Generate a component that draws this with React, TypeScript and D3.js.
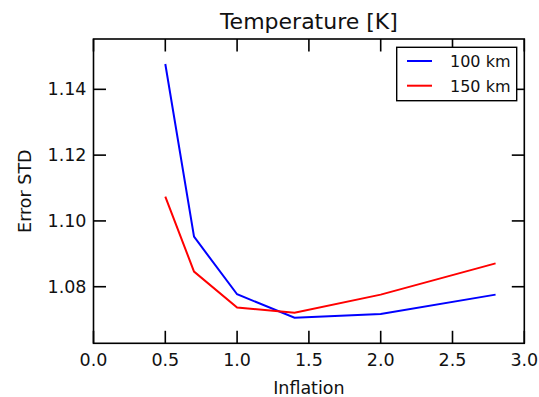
import React from "react";
import * as d3 from "d3";

const inflation = [0.5, 0.7, 1.0, 1.4, 2.0, 2.8];
const err100 = [1.1477, 1.0952, 1.0777, 1.0706, 1.0717, 1.0776];
const err150 = [1.1074, 1.0846, 1.0737, 1.0721, 1.0776, 1.0871];
const seriesNames = ["100 km", "150 km"];
const seriesColors = ["#0000ff", "#ff0000"];
const xTicks = [0, 0.5, 1.0, 1.5, 2.0, 2.5, 3.0];
const yTicks = [1.08, 1.1, 1.12, 1.14];

const W = 539;
const H = 397;
const L = 93.5, R = 524.3, T = 39, B = 343.3;
const FONT = "DejaVu Sans, sans-serif";

export default function App() {
  const x = d3.scaleLinear().domain([0, 3]).range([L, R]);
  const y = d3.scaleLinear().domain([1.0628, 1.1553]).range([B, T]);
  const line = d3
    .line<number>()
    .x((_, i) => x(inflation[i]))
    .y((d) => y(d));
  const series = [err100, err150];
  const tickLen = 12.5;

  return (
    <svg
      width={W}
      height={H}
      style={{ position: "absolute", left: 0, top: 0, background: "#fff" }}
      fontFamily={FONT}
    >
      <rect x={0} y={0} width={W} height={H} fill="#fff" />
      {series.map((s, k) => (
        <path
          key={k}
          d={line(s) || ""}
          fill="none"
          stroke={seriesColors[k]}
          strokeWidth={2}
          strokeLinejoin="miter"
        />
      ))}
      <rect x={L} y={T} width={R - L} height={B - T} fill="none" stroke="#000" strokeWidth={1.6} />
      {xTicks.map((t) => (
        <g key={"x" + t}>
          <line x1={x(t)} x2={x(t)} y1={B} y2={B - tickLen} stroke="#000" strokeWidth={1.6} />
          <line x1={x(t)} x2={x(t)} y1={T} y2={T + tickLen} stroke="#000" strokeWidth={1.6} />
          <text x={x(t)} y={366} textAnchor="middle" fontSize={17.5} fill="#111">
            {t.toFixed(1)}
          </text>
        </g>
      ))}
      {yTicks.map((t) => (
        <g key={"y" + t}>
          <line x1={L} x2={L + tickLen} y1={y(t)} y2={y(t)} stroke="#000" strokeWidth={1.6} />
          <line x1={R} x2={R - tickLen} y1={y(t)} y2={y(t)} stroke="#000" strokeWidth={1.6} />
          <text x={86.5} y={y(t) + 6} textAnchor="end" fontSize={17.5} fill="#111">
            {t.toFixed(2)}
          </text>
        </g>
      ))}
      <text x={(L + R) / 2} y={393.5} textAnchor="middle" fontSize={17.5} fill="#111">
        Inflation
      </text>
      <text
        transform={`translate(31,${(T + B) / 2}) rotate(-90)`}
        textAnchor="middle"
        fontSize={17.5}
        fill="#111"
      >
        Error STD
      </text>
      <text x={(L + R) / 2} y={28.5} textAnchor="middle" fontSize={22} fill="#111">
        Temperature [K]
      </text>
      <rect x={396.7} y={47.3} width={120} height={53.4} fill="#fff" stroke="#000" strokeWidth={1.4} />
      {seriesNames.map((n, k) => (
        <g key={n}>
          <line x1={407} x2={432} y1={61 + k * 24.7} y2={61 + k * 24.7} stroke={seriesColors[k]} strokeWidth={2} />
          <text x={450} y={67 + k * 24.7} fontSize={16} fill="#111">
            {n}
          </text>
        </g>
      ))}
    </svg>
  );
}
